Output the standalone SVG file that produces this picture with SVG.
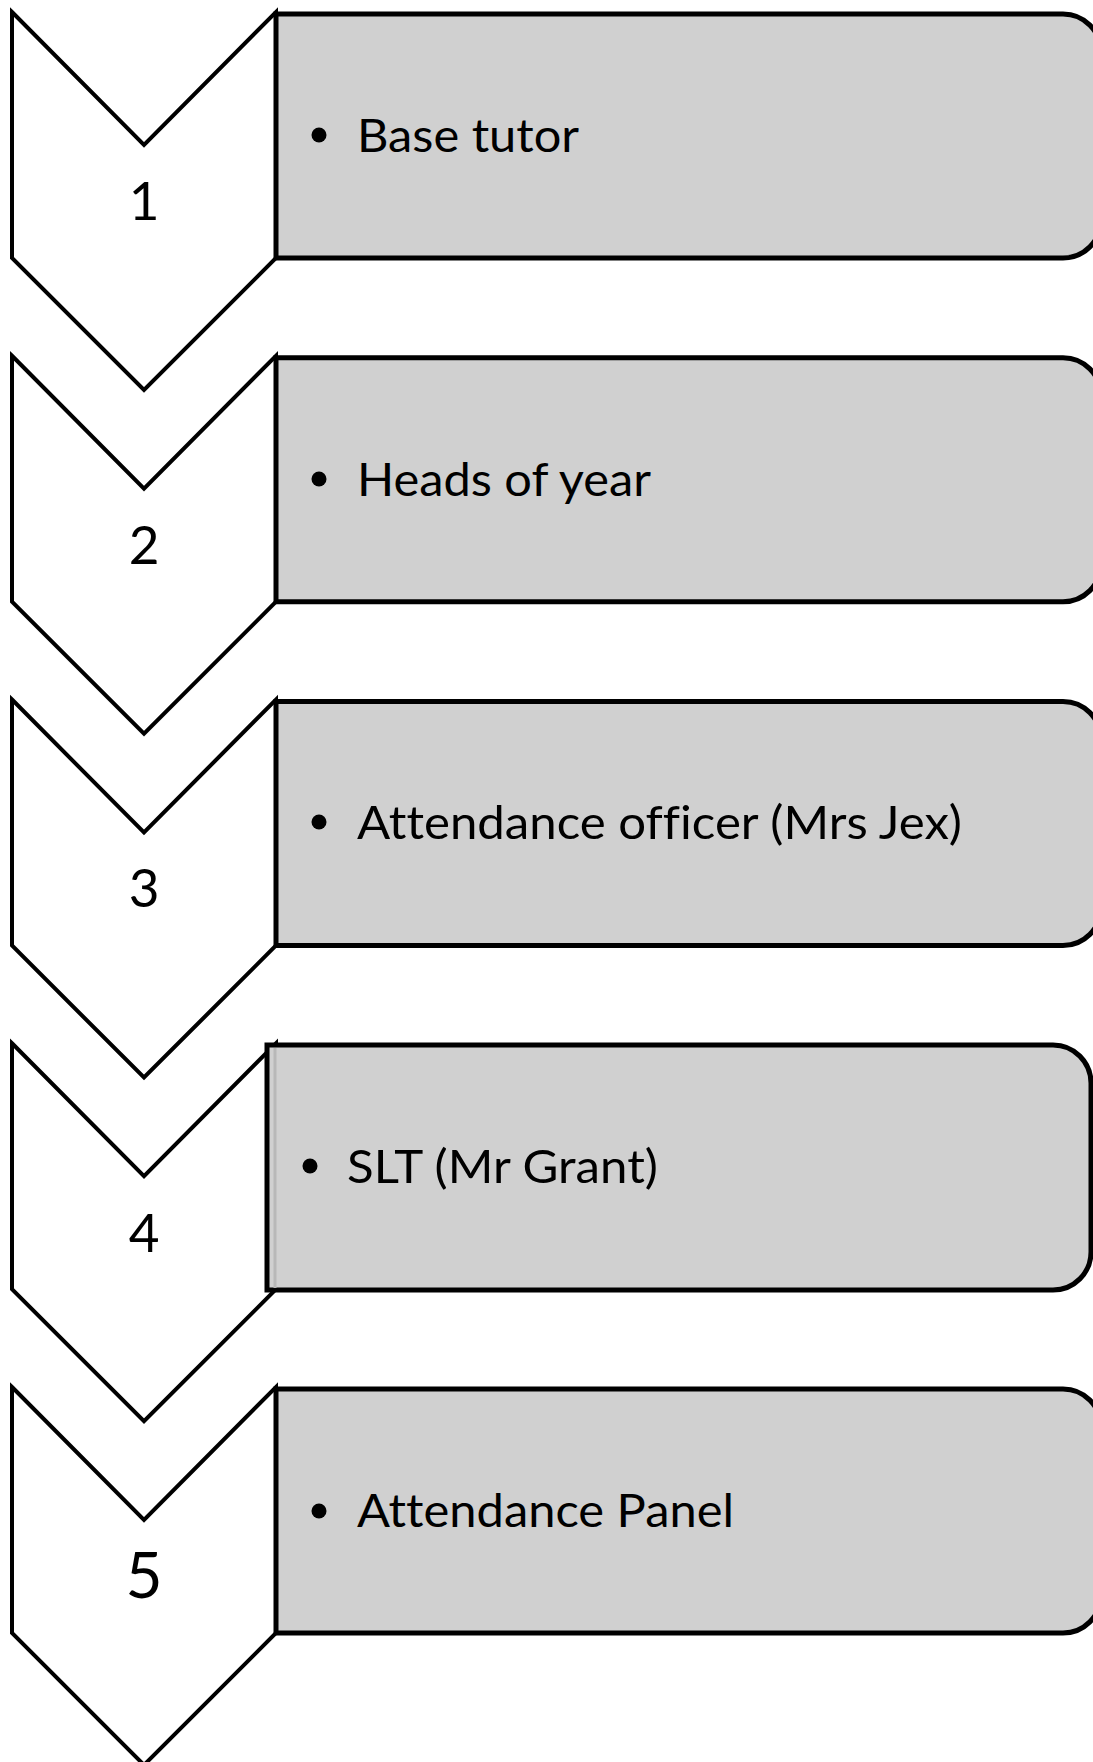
<svg xmlns="http://www.w3.org/2000/svg" width="1093" height="1762" viewBox="0 0 1093 1762">
<style>
.chev{fill:#ffffff;stroke:#000000;stroke-width:4;stroke-linejoin:miter}
.box{fill:#d0d0d0;stroke:#000000;stroke-width:5;stroke-linejoin:miter}
.lbl{font-family:Lato,"Open Sans",sans-serif;font-size:47px;fill:#000000;font-variant-ligatures:none}
.num{font-family:Lato,"Open Sans",sans-serif;font-size:53px;fill:#000000;text-anchor:middle}
.dot{fill:#000000}
</style>
<rect width="1093" height="1762" fill="#ffffff"/>
<g id="connectors"></g>
<g id="step1">
<polygon class="chev" points="12,12 144,145 276,12 276,258 144,390 12,258"/>
<path class="box" d="M276,14 H1063 A38,38 0 0 1 1101,52 V220 A38,38 0 0 1 1063,258 H276 Z"/>
<text class="num" x="144" y="220">1</text>
<circle class="dot" cx="319" cy="135" r="7.5"/>
<text class="lbl" x="357" y="152" textLength="222" lengthAdjust="spacingAndGlyphs">Base tutor</text>
</g>
<g id="step2">
<polygon class="chev" points="12,355.75 144,488.75 276,355.75 276,601.75 144,733.75 12,601.75"/>
<path class="box" d="M276,357.75 H1063 A38,38 0 0 1 1101,395.75 V563.75 A38,38 0 0 1 1063,601.75 H276 Z"/>
<text class="num" x="144" y="564">2</text>
<circle class="dot" cx="319" cy="479" r="7.5"/>
<text class="lbl" x="357" y="496" textLength="294" lengthAdjust="spacingAndGlyphs">Heads of year</text>
</g>
<g id="step3">
<polygon class="chev" points="12,699.5 144,832.5 276,699.5 276,945.5 144,1077.5 12,945.5"/>
<path class="box" d="M276,701.5 H1063 A38,38 0 0 1 1101,739.5 V907.5 A38,38 0 0 1 1063,945.5 H276 Z"/>
<text class="num" x="144" y="907">3</text>
<circle class="dot" cx="319" cy="822" r="7.5"/>
<text class="lbl" x="357" y="839" textLength="605" lengthAdjust="spacingAndGlyphs">Attendance officer (Mrs Jex)</text>
</g>
<g id="step4">
<polygon class="chev" points="12,1043.25 144,1176.25 276,1043.25 276,1289.25 144,1421.25 12,1289.25"/>
<path class="box" d="M267,1045 H1053 A38,38 0 0 1 1091,1083 V1252 A38,38 0 0 1 1053,1290 H267 Z"/>
<line x1="275" y1="1048" x2="275" y2="1288" stroke="#b8b8b8" stroke-width="3"/>
<text class="num" x="144" y="1252">4</text>
<circle class="dot" cx="310" cy="1166" r="7.5"/>
<text class="lbl" x="347" y="1183" textLength="311" lengthAdjust="spacingAndGlyphs">SLT (Mr Grant)</text>
</g>
<g id="step5">
<polygon class="chev" points="12,1387 144,1520 276,1387 276,1633 144,1765 12,1633"/>
<path class="box" d="M276,1389 H1063 A38,38 0 0 1 1101,1427 V1595 A38,38 0 0 1 1063,1633 H276 Z"/>
<text class="num" x="144" y="1598" style="font-size:64px">5</text>
<circle class="dot" cx="319" cy="1511" r="7.5"/>
<text class="lbl" x="357" y="1527" textLength="377" lengthAdjust="spacingAndGlyphs">Attendance Panel</text>
</g>
</svg>
